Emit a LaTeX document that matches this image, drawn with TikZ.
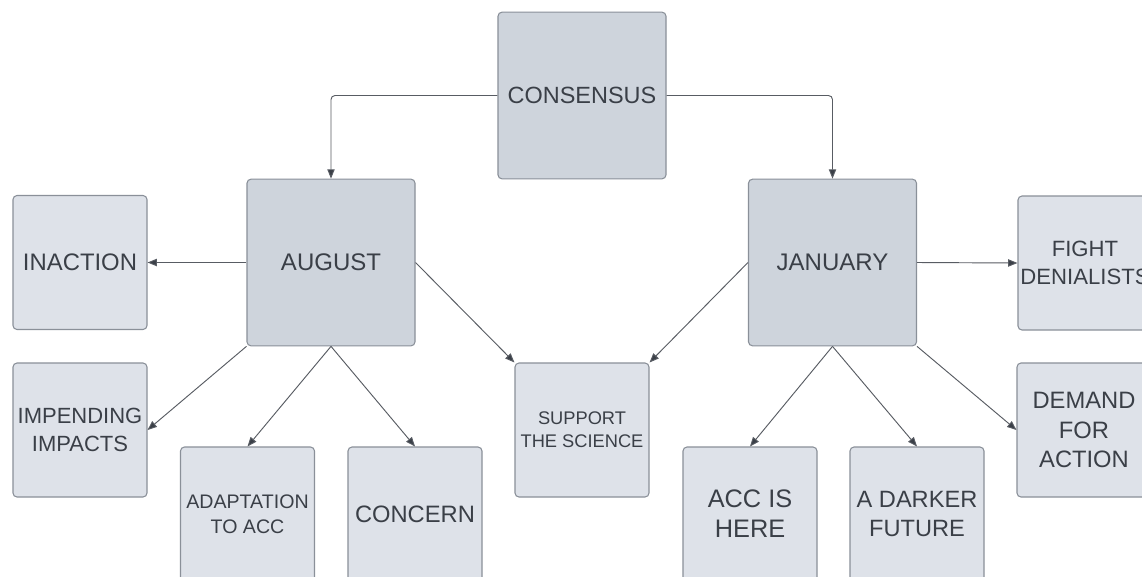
\documentclass[tikz,border=0pt]{standalone}
\usepackage{fontspec}
\setmainfont{Liberation Sans}
\usetikzlibrary{arrows.meta}
\definecolor{darkfill}{RGB}{206,212,220}
\definecolor{lightfill}{RGB}{222,226,233}
\definecolor{boxline}{RGB}{138,144,153}
\definecolor{txt}{RGB}{58,63,71}
\definecolor{conn}{RGB}{88,92,99}
\tikzset{
  box/.style={draw=boxline, line width=0.8pt, rounded corners=3pt, text=txt, align=center, inner sep=0pt},
  bigbox/.style={box, fill=darkfill, minimum width=126pt, minimum height=125pt},
  smallbox/.style={box, fill=lightfill, minimum width=100.5pt, minimum height=100.5pt},
  arr/.style={draw=conn, line width=0.7pt, -{Triangle[length=7pt,width=5.5pt,fill=txt]}},
}
\newcommand{\fs}[1]{\fontsize{#1}{#1*1.25}\selectfont}
\begin{document}
\begin{tikzpicture}[x=0.75pt,y=-0.75pt]
\useasboundingbox (0,0) rectangle (1142,576);
\fill[white] (0,0) rectangle (1142,576);
\begin{scope}
\clip (0,0) rectangle (1142,576);
\node[bigbox, font=\fontsize{17.6}{22}\selectfont] (cons) at (582,95.5) {CONSENSUS};
\node[bigbox, font=\fontsize{18}{22}\selectfont] (aug) at (331,262.5) {AUGUST};
\node[bigbox, font=\fontsize{18}{22}\selectfont] (jan) at (832.5,262.5) {JANUARY};
\node[smallbox, font=\fontsize{17.9}{22}\selectfont] (inact) at (80,262.5) {INACTION};
\node[smallbox, font=\fontsize{16.6}{21}\selectfont] (fight) at (1085,263) {FIGHT\\DENIALISTS};
\node[smallbox, font=\fontsize{16.5}{21}\selectfont] (imp) at (80,430) {IMPENDING\\IMPACTS};
\node[smallbox, font=\fontsize{14.7}{19}\selectfont] (adapt) at (247.5,514) {ADAPTATION\\TO ACC};
\node[smallbox, font=\fontsize{17.8}{22}\selectfont] (conc) at (415,514) {CONCERN};
\node[smallbox, font=\fontsize{13.7}{17.5}\selectfont] (supp) at (582,430) {SUPPORT\\THE SCIENCE};
\node[smallbox, font=\fontsize{19}{22.5}\selectfont] (accis) at (750,514) {ACC IS\\HERE};
\node[smallbox, font=\fontsize{17.7}{22}\selectfont] (dark) at (917,514) {A DARKER\\FUTURE};
\node[smallbox, font=\fontsize{17.8}{22}\selectfont] (dem) at (1084,430) {DEMAND\\FOR\\ACTION};

\draw[arr, rounded corners=3pt] (cons.west) -| (aug.north);
\draw[arr, rounded corners=3pt] (cons.east) -| (jan.north);
\draw[arr] (aug.west) -- (inact.east);
\draw[arr] (aug.south west) -- (imp.east);
\draw[arr] (aug.south) -- (adapt.north);
\draw[arr] (aug.south) -- (conc.north);
\draw[arr] (aug.east) -- (supp.north west);
\draw[arr] (jan.west) -- (supp.north east);
\draw[arr] (jan.east) -- (fight.west);
\draw[arr] (jan.south) -- (accis.north);
\draw[arr] (jan.south) -- (dark.north);
\draw[arr] (jan.south east) -- (dem.west);
\end{scope}
\end{tikzpicture}
\end{document}
